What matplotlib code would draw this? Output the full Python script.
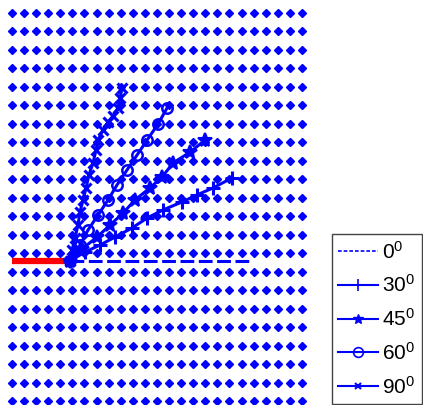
import matplotlib
matplotlib.use("Agg")
import matplotlib.pyplot as plt
import numpy as np
from matplotlib.lines import Line2D

plt.rcParams.update({
    "font.family": ["Liberation Sans", "DejaVu Sans"],
    "mathtext.default": "regular",
})

# lattice of particles (columns x rows)
n_cols = 25
n_rows = 22

# initial crack (red) and crack tip
crack_x = [0.0, 4.6]
crack_y = [7.58, 7.58]

# 0 deg reference path (dashed)
p0_x = [4.8, 19.7]
p0_y = [7.58, 7.58]

# propagated crack paths
p30_x = [4.80, 6.04, 7.28, 8.53, 9.93, 11.18, 12.50, 14.07, 15.31, 16.64, 18.21]
p30_y = [7.58, 8.06, 8.44, 8.87, 9.36, 9.90, 10.34, 10.77, 11.15, 11.53, 12.07]

p45_x = [4.80, 5.79, 7.04, 8.11, 9.19, 10.18, 11.42, 12.42, 13.33, 14.74, 15.98]
p45_y = [7.58, 8.23, 8.87, 9.52, 10.17, 10.88, 11.53, 12.12, 12.88, 13.47, 14.12]

p60_x = [4.80, 5.63, 6.29, 7.12, 7.95, 8.69, 9.52, 10.35, 11.18, 12.09, 12.83]
p60_y = [7.58, 8.44, 9.25, 10.06, 10.88, 11.69, 12.50, 13.31, 14.12, 14.99, 15.85]

p90_x = [4.80, 4.97, 5.22, 5.46, 5.63, 5.88, 6.13, 6.37, 6.71, 6.95, 7.12,
         7.53, 7.95, 8.36, 8.77, 8.94, 9.11]
p90_y = [7.58, 8.17, 8.82, 9.52, 10.23, 10.88, 11.53, 12.23, 12.88, 13.58,
         14.12, 14.66, 15.10, 15.42, 15.85, 16.39, 16.94]

labels = ["0$^0$", "30$^0$", "45$^0$", "60$^0$", "90$^0$"]

fig = plt.figure(figsize=(4.23, 4.05), dpi=100)
ax = fig.add_axes([0, 0, 1, 1])

gx, gy = np.meshgrid(np.arange(n_cols), np.arange(n_rows))
ax.plot(gx.ravel(), gy.ravel(), ls="none", marker="D", ms=4.0,
        color="blue", mec="blue")

ax.plot(crack_x, crack_y, color="red", lw=4.5, solid_capstyle="butt")
ax.plot(p0_x, p0_y, color="blue", lw=2.2, dashes=(4.5, 1.5))

blue = "blue"
ax.plot(p30_x, p30_y, color=blue, lw=2.2, marker="+", ms=10, mew=2.2)
ax.plot(p45_x, p45_y, color=blue, lw=2.2, marker="*", ms=10, mew=1.5)
ax.plot(p60_x, p60_y, color=blue, lw=2.2, marker="o", ms=7.5, mew=1.8, mfc="none")
ax.plot(p90_x, p90_y, color=blue, lw=2.2, marker="x", ms=6.5, mew=2.2)

ax.set_xlim(-0.993, 34.02)
ax.set_ylim(-0.216, 21.70)
ax.axis("off")

handles = [
    Line2D([], [], color=blue, lw=1.2, dashes=(2.2, 1.2)),
    Line2D([], [], color=blue, lw=1.5, marker="+", ms=9, mew=1.2),
    Line2D([], [], color=blue, lw=1.5, marker="*", ms=7, mew=1.0),
    Line2D([], [], color=blue, lw=1.5, marker="o", ms=7, mew=1.2, mfc="none"),
    Line2D([], [], color=blue, lw=1.5, marker="x", ms=5, mew=1.5),
]
leg = fig.legend(handles, labels, loc="lower right",
                 bbox_to_anchor=(0.997, 0.002), borderaxespad=0,
                 fontsize=15, handlelength=1.9, handletextpad=0.2,
                 labelspacing=0.57, borderpad=0.32, fancybox=False,
                 framealpha=1, edgecolor="#444444")
leg.get_frame().set_linewidth(1.0)

fig.savefig("out.png", dpi=100)
